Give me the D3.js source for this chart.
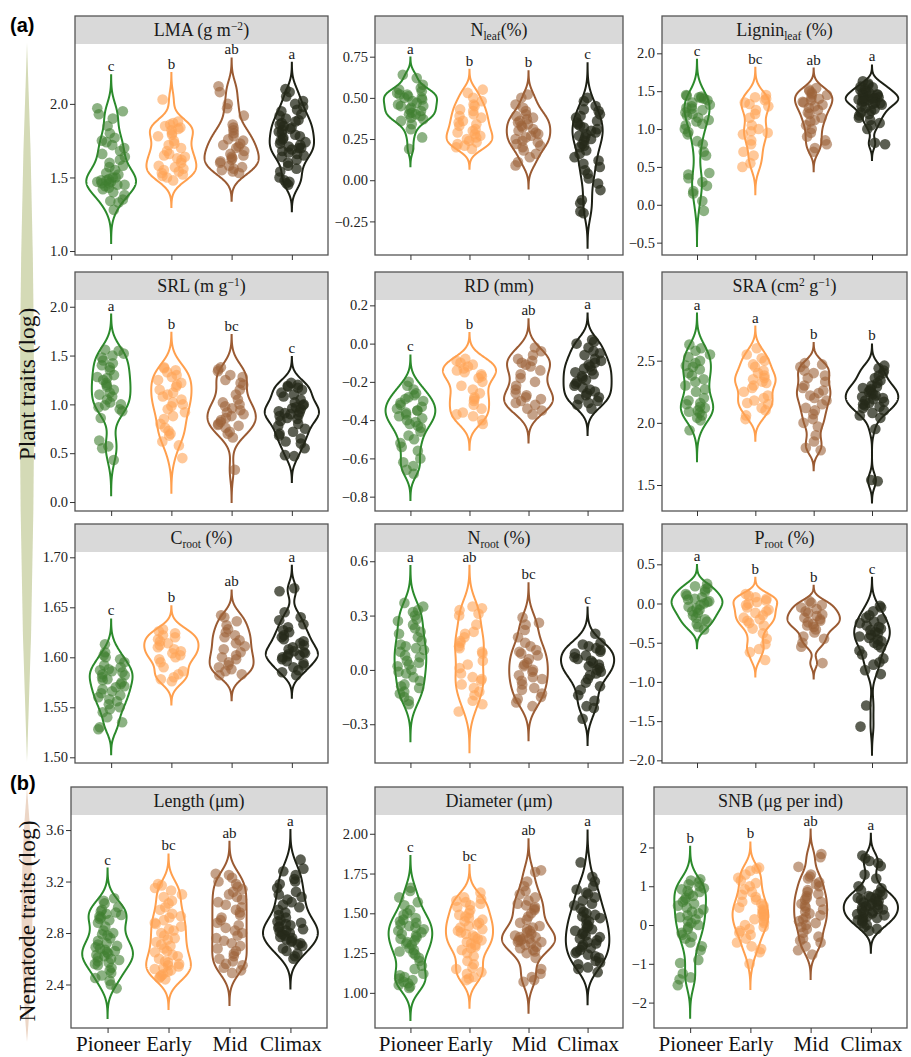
<!DOCTYPE html>
<html><head><meta charset="utf-8">
<script src="https://cdn.jsdelivr.net/npm/d3@7"></script>
<style>body{margin:0;background:#fff}svg{display:block}</style>
</head><body><svg id="c" width="911" height="1057"></svg>
<script>
// ---------------- DATA ----------------
const groups = ["Pioneer","Early","Mid","Climax"];

const lma = [
 [1.97,1.95,1.93,1.90,1.85,1.80,1.77,1.75,1.74,1.72,1.70,1.68,1.66,1.64,1.62,1.60,1.58,1.57,1.55,1.53,1.52,1.50,1.50,1.49,1.48,1.48,1.47,1.47,1.46,1.46,1.45,1.45,1.44,1.43,1.42,1.40,1.38,1.35,1.34,1.33,1.28],
 [2.03,1.88,1.87,1.86,1.85,1.84,1.83,1.82,1.80,1.79,1.78,1.75,1.73,1.72,1.70,1.68,1.66,1.65,1.64,1.63,1.62,1.60,1.58,1.57,1.56,1.55,1.54,1.53,1.52,1.51,1.50,1.48],
 [2.12,2.08,2.00,1.97,1.92,1.86,1.84,1.82,1.80,1.78,1.76,1.75,1.73,1.72,1.71,1.70,1.68,1.66,1.65,1.64,1.63,1.62,1.61,1.60,1.58,1.57,1.56,1.55,1.54,1.53],
 [2.10,2.08,2.05,2.02,2.00,1.98,1.96,1.95,1.93,1.92,1.90,1.89,1.88,1.87,1.86,1.85,1.84,1.83,1.82,1.81,1.80,1.79,1.78,1.77,1.76,1.75,1.74,1.73,1.72,1.71,1.70,1.70,1.69,1.68,1.67,1.66,1.65,1.64,1.62,1.60,1.58,1.56,1.54,1.50,1.48,1.47,1.46,1.45]
];
const nleaf = [
 [0.64,0.62,0.58,0.56,0.55,0.54,0.53,0.52,0.52,0.51,0.50,0.50,0.49,0.48,0.47,0.46,0.45,0.45,0.44,0.43,0.42,0.41,0.40,0.40,0.39,0.38,0.37,0.36,0.34,0.31,0.26,0.19],
 [0.55,0.53,0.50,0.48,0.46,0.45,0.43,0.42,0.40,0.39,0.38,0.36,0.35,0.34,0.33,0.31,0.30,0.29,0.28,0.27,0.26,0.25,0.24,0.23,0.22,0.21,0.20,0.19],
 [0.52,0.50,0.46,0.44,0.42,0.40,0.39,0.38,0.37,0.36,0.35,0.34,0.33,0.32,0.31,0.30,0.29,0.28,0.27,0.26,0.25,0.24,0.23,0.22,0.21,0.20,0.18,0.16,0.14,0.11,0.09],
 [0.50,0.48,0.45,0.43,0.42,0.40,0.39,0.38,0.36,0.35,0.34,0.33,0.32,0.31,0.30,0.29,0.28,0.27,0.26,0.25,0.24,0.22,0.21,0.20,0.18,0.16,0.14,0.12,0.10,0.08,0.06,0.04,0.01,-0.02,-0.06,-0.12,-0.14,-0.19,-0.20]
];
const lignin = [
 [1.45,1.44,1.43,1.42,1.41,1.40,1.38,1.35,1.32,1.30,1.28,1.27,1.25,1.22,1.20,1.18,1.15,1.12,1.10,1.07,1.05,1.00,0.96,0.93,0.84,0.80,0.70,0.65,0.42,0.40,0.35,0.30,0.25,0.18,0.15,0.05,-0.08],
 [1.45,1.42,1.40,1.38,1.35,1.33,1.30,1.25,1.20,1.15,1.05,1.00,0.97,0.95,0.93,0.85,0.80,0.70,0.65,0.55,0.50],
 [1.54,1.52,1.50,1.48,1.46,1.45,1.42,1.40,1.38,1.36,1.35,1.32,1.30,1.28,1.25,1.22,1.20,1.15,1.12,1.10,1.05,1.00,0.95,0.90,0.85,0.80,0.75,0.70],
 [1.63,1.60,1.58,1.56,1.55,1.53,1.52,1.50,1.48,1.47,1.46,1.45,1.44,1.43,1.42,1.41,1.40,1.40,1.39,1.38,1.37,1.36,1.35,1.34,1.33,1.32,1.30,1.28,1.26,1.24,1.22,1.20,1.18,1.15,1.12,1.08,1.05,1.00,0.82,0.80]
];
const srl = [
 [1.56,1.55,1.52,1.50,1.48,1.45,1.42,1.40,1.38,1.35,1.30,1.28,1.27,1.25,1.22,1.20,1.18,1.15,1.12,1.10,1.08,1.05,1.02,1.00,0.99,0.97,0.95,0.93,0.86,0.63,0.57,0.55,0.43],
 [1.38,1.37,1.35,1.33,1.30,1.28,1.25,1.22,1.20,1.18,1.15,1.12,1.10,1.08,1.05,1.02,1.00,0.98,0.95,0.92,0.88,0.85,0.80,0.76,0.73,0.70,0.68,0.62,0.58,0.45],
 [1.38,1.36,1.34,1.30,1.28,1.25,1.22,1.20,1.15,1.10,1.05,1.02,1.00,0.98,0.96,0.94,0.92,0.90,0.88,0.86,0.84,0.82,0.80,0.79,0.78,0.76,0.72,0.70,0.66,0.33],
 [1.22,1.20,1.19,1.18,1.17,1.15,1.12,1.10,1.08,1.05,1.02,1.00,0.99,0.97,0.96,0.95,0.93,0.92,0.91,0.90,0.89,0.88,0.86,0.85,0.83,0.80,0.78,0.75,0.72,0.70,0.68,0.65,0.62,0.60,0.55,0.48,0.47]
];
const rd = [
 [-0.20,-0.22,-0.24,-0.26,-0.27,-0.28,-0.29,-0.30,-0.31,-0.32,-0.33,-0.34,-0.35,-0.35,-0.36,-0.37,-0.38,-0.39,-0.40,-0.41,-0.42,-0.43,-0.44,-0.46,-0.48,-0.50,-0.52,-0.54,-0.56,-0.60,-0.62,-0.64,-0.66,-0.68],
 [-0.08,-0.09,-0.10,-0.11,-0.12,-0.13,-0.14,-0.15,-0.16,-0.17,-0.18,-0.20,-0.22,-0.24,-0.26,-0.28,-0.29,-0.30,-0.32,-0.34,-0.36,-0.37,-0.38,-0.40,-0.42],
 [-0.02,-0.04,-0.06,-0.08,-0.09,-0.10,-0.11,-0.12,-0.14,-0.16,-0.18,-0.20,-0.22,-0.24,-0.26,-0.27,-0.28,-0.29,-0.30,-0.31,-0.32,-0.34,-0.35,-0.37],
 [0.02,0.01,0.00,-0.02,-0.04,-0.05,-0.06,-0.08,-0.09,-0.10,-0.11,-0.12,-0.13,-0.14,-0.15,-0.16,-0.17,-0.18,-0.19,-0.20,-0.21,-0.22,-0.23,-0.24,-0.25,-0.26,-0.27,-0.28,-0.29,-0.30,-0.31,-0.32,-0.34]
];
const sra = [
 [2.63,2.60,2.58,2.55,2.53,2.50,2.48,2.46,2.45,2.43,2.40,2.38,2.35,2.33,2.30,2.27,2.25,2.20,2.18,2.16,2.15,2.13,2.12,2.10,2.09,2.08,2.06,2.04,2.02,1.94],
 [2.60,2.55,2.52,2.50,2.47,2.45,2.42,2.40,2.38,2.36,2.35,2.33,2.32,2.30,2.28,2.25,2.22,2.20,2.18,2.16,2.15,2.12,2.10,2.06,2.03],
 [2.48,2.47,2.45,2.42,2.40,2.38,2.36,2.33,2.30,2.28,2.26,2.24,2.22,2.20,2.18,2.15,2.12,2.10,2.07,2.03,2.00,1.97,1.90,1.85,1.80,1.78],
 [2.46,2.44,2.42,2.40,2.38,2.36,2.34,2.32,2.30,2.29,2.28,2.27,2.26,2.25,2.24,2.23,2.22,2.21,2.20,2.19,2.18,2.17,2.16,2.15,2.14,2.13,2.12,2.10,2.08,2.06,2.04,1.95,1.54,1.53]
];
const croot = [
 [1.613,1.605,1.602,1.600,1.598,1.595,1.592,1.590,1.588,1.587,1.586,1.585,1.583,1.582,1.580,1.578,1.577,1.575,1.573,1.571,1.570,1.568,1.566,1.564,1.562,1.560,1.558,1.556,1.553,1.550,1.548,1.545,1.540,1.535,1.530,1.528],
 [1.628,1.626,1.624,1.622,1.620,1.618,1.616,1.614,1.612,1.610,1.608,1.606,1.604,1.602,1.600,1.598,1.595,1.590,1.586,1.583,1.580,1.578,1.576],
 [1.642,1.640,1.636,1.632,1.628,1.625,1.622,1.620,1.617,1.614,1.611,1.608,1.605,1.602,1.600,1.598,1.595,1.592,1.590,1.588,1.586,1.583,1.582],
 [1.669,1.666,1.645,1.640,1.637,1.633,1.630,1.627,1.625,1.622,1.620,1.618,1.616,1.614,1.612,1.610,1.608,1.606,1.605,1.604,1.603,1.602,1.601,1.600,1.598,1.596,1.594,1.592,1.590,1.587,1.585,1.582]
];
const nroot = [
 [0.37,0.35,0.33,0.32,0.30,0.28,0.27,0.25,0.23,0.21,0.20,0.18,0.16,0.14,0.13,0.12,0.11,0.10,0.08,0.07,0.05,0.04,0.03,0.02,0.00,-0.01,-0.02,-0.04,-0.06,-0.08,-0.09,-0.10,-0.12,-0.13,-0.15,-0.17,-0.19],
 [0.35,0.34,0.33,0.31,0.30,0.25,0.21,0.20,0.18,0.16,0.15,0.13,0.12,0.10,0.09,0.05,0.03,0.01,-0.02,-0.04,-0.05,-0.06,-0.08,-0.10,-0.12,-0.14,-0.17,-0.19,-0.23],
 [0.29,0.26,0.25,0.22,0.18,0.15,0.13,0.11,0.10,0.09,0.08,0.06,0.04,0.03,0.02,0.00,-0.01,-0.03,-0.04,-0.05,-0.06,-0.08,-0.10,-0.11,-0.13,-0.15,-0.16,-0.18,-0.20],
 [0.20,0.15,0.14,0.13,0.12,0.11,0.10,0.09,0.08,0.07,0.06,0.05,0.04,0.03,0.02,0.01,0.00,-0.01,-0.02,-0.03,-0.05,-0.07,-0.09,-0.11,-0.14,-0.17,-0.20,-0.21,-0.27]
];
const proot = [
 [0.25,0.22,0.20,0.18,0.15,0.12,0.10,0.08,0.06,0.05,0.03,0.02,0.00,-0.02,-0.04,-0.06,-0.08,-0.10,-0.12,-0.15,-0.18,-0.20,-0.23,-0.26,-0.30,-0.33],
 [0.12,0.10,0.08,0.06,0.04,0.02,0.00,-0.02,-0.05,-0.08,-0.10,-0.12,-0.15,-0.18,-0.20,-0.22,-0.25,-0.28,-0.32,-0.38,-0.45,-0.52,-0.58,-0.62,-0.72],
 [0.03,0.01,-0.02,-0.05,-0.07,-0.10,-0.12,-0.14,-0.16,-0.18,-0.20,-0.22,-0.24,-0.26,-0.28,-0.30,-0.33,-0.37,-0.42,-0.45,-0.50,-0.55,-0.76],
 [-0.03,-0.05,-0.10,-0.15,-0.18,-0.20,-0.23,-0.25,-0.28,-0.30,-0.32,-0.34,-0.36,-0.38,-0.40,-0.42,-0.44,-0.46,-0.48,-0.50,-0.53,-0.56,-0.60,-0.65,-0.70,-0.75,-0.78,-0.85,-0.90,-1.30,-1.57]
];
const nemLength = [
 [3.07,3.05,3.03,3.00,2.98,2.97,2.96,2.95,2.94,2.93,2.92,2.91,2.90,2.88,2.85,2.82,2.80,2.79,2.78,2.76,2.74,2.72,2.71,2.70,2.69,2.68,2.67,2.66,2.65,2.64,2.63,2.62,2.61,2.60,2.59,2.58,2.57,2.56,2.55,2.53,2.51,2.49,2.47,2.45,2.43,2.40,2.37],
 [3.18,3.17,3.15,3.13,3.10,3.08,3.05,3.03,3.00,2.98,2.95,2.93,2.92,2.90,2.88,2.87,2.85,2.83,2.82,2.80,2.78,2.76,2.75,2.73,2.71,2.70,2.68,2.66,2.65,2.63,2.62,2.60,2.58,2.57,2.56,2.55,2.54,2.53,2.52,2.51,2.50,2.48,2.47,2.46,2.45,2.44],
 [3.26,3.25,3.23,3.20,3.18,3.16,3.14,3.12,3.10,3.08,3.06,3.04,3.02,3.00,2.98,2.96,2.94,2.92,2.90,2.88,2.86,2.84,2.82,2.80,2.78,2.76,2.74,2.72,2.70,2.68,2.66,2.64,2.62,2.60,2.58,2.56,2.55,2.53,2.51,2.49],
 [3.37,3.30,3.28,3.25,3.22,3.20,3.18,3.15,3.12,3.10,3.08,3.06,3.04,3.02,3.00,2.98,2.96,2.94,2.92,2.90,2.89,2.88,2.87,2.86,2.85,2.84,2.83,2.82,2.81,2.80,2.79,2.78,2.77,2.76,2.75,2.74,2.73,2.72,2.71,2.70,2.68,2.66,2.64,2.62,2.60]
];
const nemDiameter = [
 [1.66,1.64,1.60,1.57,1.55,1.52,1.50,1.49,1.47,1.46,1.45,1.44,1.43,1.42,1.41,1.40,1.39,1.38,1.37,1.36,1.35,1.34,1.33,1.32,1.31,1.30,1.28,1.27,1.26,1.25,1.24,1.22,1.20,1.17,1.15,1.12,1.11,1.10,1.09,1.08,1.07,1.06,1.05,1.04,1.03],
 [1.63,1.60,1.59,1.58,1.57,1.56,1.55,1.54,1.52,1.50,1.49,1.48,1.47,1.46,1.45,1.44,1.43,1.42,1.41,1.40,1.39,1.38,1.37,1.36,1.35,1.34,1.33,1.32,1.31,1.30,1.29,1.28,1.27,1.25,1.23,1.20,1.18,1.16,1.15,1.13,1.12,1.10,1.09,1.08],
 [1.77,1.76,1.70,1.67,1.64,1.62,1.60,1.58,1.56,1.55,1.54,1.53,1.52,1.50,1.48,1.46,1.44,1.42,1.41,1.40,1.39,1.38,1.37,1.36,1.35,1.35,1.34,1.34,1.33,1.33,1.32,1.32,1.31,1.30,1.29,1.28,1.27,1.26,1.25,1.22,1.15,1.12,1.10,1.08,1.07],
 [1.82,1.73,1.70,1.67,1.65,1.63,1.62,1.60,1.58,1.56,1.55,1.53,1.51,1.50,1.49,1.48,1.47,1.46,1.45,1.43,1.42,1.41,1.40,1.39,1.38,1.37,1.36,1.35,1.34,1.33,1.32,1.31,1.30,1.29,1.28,1.27,1.26,1.25,1.24,1.23,1.22,1.20,1.19,1.18,1.16,1.15,1.13]
];
const nemSNB = [
 [1.18,1.15,1.10,1.05,1.00,0.95,0.92,0.88,0.85,0.80,0.75,0.70,0.65,0.60,0.55,0.50,0.45,0.40,0.35,0.30,0.25,0.20,0.15,0.10,0.05,0.00,-0.05,-0.10,-0.20,-0.25,-0.30,-0.35,-0.45,-0.55,-0.65,-0.90,-0.98,-1.25,-1.35,-1.40,-1.55],
 [1.48,1.45,1.40,1.30,1.22,1.15,1.08,1.00,0.92,0.85,0.78,0.72,0.65,0.60,0.55,0.50,0.45,0.40,0.36,0.32,0.28,0.24,0.20,0.15,0.10,0.05,0.00,-0.05,-0.10,-0.15,-0.20,-0.25,-0.35,-0.45,-0.55,-0.62,-0.70,-1.00],
 [1.83,1.75,1.50,1.30,1.25,1.20,1.10,1.05,1.00,0.90,0.85,0.80,0.75,0.70,0.65,0.60,0.55,0.50,0.45,0.40,0.35,0.30,0.25,0.20,0.15,0.10,0.05,0.00,-0.05,-0.10,-0.20,-0.30,-0.35,-0.40,-0.45,-0.55,-0.65,-0.76],
 [1.79,1.72,1.65,1.60,1.52,1.30,1.20,1.00,0.95,0.90,0.85,0.80,0.78,0.75,0.72,0.70,0.68,0.65,0.62,0.60,0.58,0.55,0.52,0.50,0.48,0.45,0.42,0.40,0.38,0.35,0.32,0.30,0.28,0.25,0.22,0.20,0.18,0.15,0.12,0.10,0.05,0.00,-0.05,-0.10,-0.15]
];

const bwLMA=[0.075,0.06,0.063,0.06], bwNleaf=[0.035,0.04,0.047,0.07], bwLignin=[0.155,0.12,0.086,0.07],
      bwSRL=[0.12,0.118,0.11,0.088], bwRD=[0.046,0.045,0.049,0.046], bwSRA=[0.083,0.058,0.054,0.057],
      bwCroot=[0.0083,0.0077,0.0083,0.0075], bwNroot=[0.068,0.075,0.063,0.048], bwProot=[0.08,0.07,0.065,0.12],
      bwLen=[0.077,0.077,0.083,0.077], bwDia=[0.067,0.058,0.065,0.067], bwSNB=[0.28,0.217,0.21,0.188];

const letters = {
 lma:["c","b","ab","a"], nleaf:["a","b","b","c"], lignin:["c","bc","ab","a"],
 srl:["a","b","bc","c"], rd:["c","b","ab","a"], sra:["a","a","b","b"],
 croot:["c","b","ab","a"], nroot:["a","ab","bc","c"], proot:["a","b","b","c"],
 len:["c","bc","ab","a"], dia:["c","bc","ab","a"], snb:["b","b","ab","a"]
};
const ticksLMA=[1.0,1.5,2.0], ticksNleaf=[-0.25,0,0.25,0.5,0.75], ticksLignin=[-0.5,0,0.5,1,1.5,2],
      ticksSRL=[0,0.5,1,1.5,2], ticksRD=[-0.8,-0.6,-0.4,-0.2,0,0.2], ticksSRA=[1.5,2,2.5],
      ticksCroot=[1.5,1.55,1.6,1.65,1.7], ticksNroot=[-0.3,0,0.3,0.6], ticksProot=[-2,-1.5,-1,-0.5,0,0.5],
      ticksLen=[2.4,2.8,3.2,3.6], ticksDia=[1,1.25,1.5,1.75,2], ticksSNB=[-2,-1,0,1,2];

const panels = [
 {title:[["LMA (g m",0],["−2",1],[")",0]], data:lma, bw:bwLMA, let:letters.lma, ticks:ticksLMA, fmt:".1f", lim:[0.973,2.407]},
 {title:[["N",0],["leaf",-1],["(%)",0]], data:nleaf, bw:bwNleaf, let:letters.nleaf, ticks:ticksNleaf, fmt:".2f", lim:[-0.454,0.827]},
 {title:[["Lignin",0],["leaf",-1],[" (%)",0]], data:lignin, bw:bwLignin, let:letters.lignin, ticks:ticksLignin, fmt:".1f", lim:[-0.663,2.123]},
 {title:[["SRL (m g",0],["−1",1],[")",0]], data:srl, bw:bwSRL, let:letters.srl, ticks:ticksSRL, fmt:".1f", lim:[-0.092,2.069]},
 {title:[["RD (mm)",0]], data:rd, bw:bwRD, let:letters.rd, ticks:ticksRD, fmt:".1f", lim:[-0.875,0.228]},
 {title:[["SRA (cm",0],["2",1],[" g",0],["−1",1],[")",0]], data:sra, bw:bwSRA, let:letters.sra, ticks:ticksSRA, fmt:".1f", lim:[1.291,2.988]},
 {title:[["C",0],["root",-1],[" (%)",0]], data:croot, bw:bwCroot, let:letters.croot, ticks:ticksCroot, fmt:".2f", lim:[1.4943,1.7053]},
 {title:[["N",0],["root",-1],[" (%)",0]], data:nroot, bw:bwNroot, let:letters.nroot, ticks:ticksNroot, fmt:".1f", lim:[-0.514,0.651]},
 {title:[["P",0],["root",-1],[" (%)",0]], data:proot, bw:bwProot, let:letters.proot, ticks:ticksProot, fmt:".1f", lim:[-2.034,0.657]},
 {title:[["Length (μm)",0]], data:nemLength, bw:bwLen, let:letters.len, ticks:ticksLen, fmt:".1f", lim:[2.062,3.717]},
 {title:[["Diameter (μm)",0]], data:nemDiameter, bw:bwDia, let:letters.dia, ticks:ticksDia, fmt:".2f", lim:[0.779,2.118]},
 {title:[["SNB (μg per ind)",0]], data:nemSNB, bw:bwSNB, let:letters.snb, ticks:ticksSNB, fmt:"d", lim:[-2.655,2.837]}
];

// ---------------- LAYOUT / STYLE ----------------
const rowBox = [[16,255],[272,511],[524,763],[787,1028]];
const colLeft = [[75,375,662],[75,375,662],[75,375,662],[71,375,654]];
const colRight = [[328,623,907],[328,623,907],[328,623,907],[327,623,907]];
const stripH = 28;
const lineColors = ["#2b8a2b","#ff9f4d","#9a5a32","#1c1f14"];
const pointColors = ["#3f7f30","#ffa355","#9d6238","#262a1a"];
const pointOpacity = [0.6,0.6,0.6,0.75];
const serif = "Liberation Serif";

const svg = d3.select("#c");

// deterministic horizontal jitter offset in [-1,1] (position only, not data)
function jit(i, gi, pi){
  const s = Math.sin(i*12.9898 + gi*78.233 + pi*37.719)*43758.5453;
  return (s - Math.floor(s))*2 - 1;
}

function kde(vals, bw){
  const s = vals.slice().sort(d3.ascending);
  const n = s.length;
  const from = s[0]-3*bw, to = s[n-1]+3*bw;
  const out=[];
  for(let k=0;k<512;k++){
    const y = from+(to-from)*k/511;
    let d=0; for(const v of s){const z=(y-v)/bw; d+=Math.exp(-0.5*z*z);}
    out.push([y, d/(n*bw*Math.sqrt(2*Math.PI))]);
  }
  return out;
}

panels.forEach((p,pi)=>{
  const r = Math.floor(pi/3), c = pi%3;
  const L = colLeft[r][c], R = colRight[r][c], T = rowBox[r][0], B = rowBox[r][1];
  const g = svg.append("g");
  const x = d3.scaleLinear().domain([0.4,4.6]).range([L,R]);
  const y = d3.scaleLinear().domain(p.lim).range([B, T+stripH]);

  // strip
  g.append("rect").attr("x",L).attr("y",T).attr("width",R-L).attr("height",stripH).attr("fill","#d9d9d9");
  const tt = g.append("text").attr("x",(L+R)/2).attr("y",T+20).attr("text-anchor","middle")
    .style("font-family",serif).style("font-size","18px").attr("fill","#1a1a1a");
  let prevShift = 0;
  p.title.forEach(([s,type])=>{
    const shift = type===1?-6:(type===-1?4:0);
    tt.append("tspan").attr("dy",shift-prevShift).style("font-size",(type===0?18:11.5)+"px").text(s);
    prevShift = shift;
  });

  // densities
  const dens = p.data.map((v,gi)=>kde(v,p.bw[gi]));
  const maxD = d3.max(dens, d=>d3.max(d, e=>e[1]));
  const halfW = 0.45;

  // violins
  dens.forEach((d,gi)=>{
    const cx = gi+1;
    const right = d.map(e=>[x(cx + halfW*e[1]/maxD), y(e[0])]);
    const left = d.slice().reverse().map(e=>[x(cx - halfW*e[1]/maxD), y(e[0])]);
    g.append("path").attr("d", d3.line()(right.concat(left))+"Z")
      .attr("fill","none").attr("stroke",lineColors[gi]).attr("stroke-width",2);
    const topPix = y(d[d.length-1][0]);
    g.append("text").attr("x",x(cx)).attr("y",topPix-4).attr("text-anchor","middle")
      .style("font-family",serif).style("font-size","15px").attr("fill","#1a1a1a").text(p.let[gi]);
  });

  // points
  p.data.forEach((vals,gi)=>{
    g.append("g").selectAll("circle").data(vals).join("circle")
      .attr("cx",(v,i)=>x(gi+1 + jit(i,gi,pi)*0.23))
      .attr("cy",v=>y(v)).attr("r",5.3)
      .attr("fill",pointColors[gi]).attr("fill-opacity",pointOpacity[gi]);
  });

  // border
  g.append("rect").attr("x",L).attr("y",T).attr("width",R-L).attr("height",B-T)
    .attr("fill","none").attr("stroke","#555").attr("stroke-width",1.3);

  // y axis
  const ya = g.append("g").attr("transform",`translate(${L},0)`)
    .call(d3.axisLeft(y).tickValues(p.ticks).tickFormat(d3.format(p.fmt)).tickSize(5).tickPadding(2));
  ya.attr("font-family",null).attr("font-size",null);
  ya.select(".domain").remove();
  ya.selectAll("line").attr("stroke","#333");
  ya.selectAll("text").style("font-family",serif).style("font-size","14.5px").attr("fill","#222");

  // x axis
  const xa = g.append("g").attr("transform",`translate(0,${B})`)
    .call(d3.axisBottom(x).tickValues([1,2,3,4]).tickFormat((d,i)=> r===3?groups[i]:"").tickSize(5).tickPadding(3));
  xa.attr("font-family",null).attr("font-size",null);
  xa.select(".domain").remove();
  xa.selectAll("line").attr("stroke","#333");
  xa.selectAll("text").style("font-family",serif).style("font-size","21px").attr("fill","#111");
});

// side spindles and labels
function spindle(cx, y0, y1, w, color){
  const ym=(y0+y1)/2;
  svg.append("path").attr("d",`M${cx},${y0} Q${cx+w},${ym} ${cx},${y1} Q${cx-w},${ym} ${cx},${y0}Z`).attr("fill",color);
}
spindle(27, 43, 762, 14, "#d4dab6");
spindle(27, 788, 1042, 11, "#ecd6c6");
svg.append("text").attr("transform","translate(35,384) rotate(-90)").attr("text-anchor","middle")
  .style("font-family",serif).style("font-size","23.5px").attr("fill","#111").text("Plant traits (log)");
svg.append("text").attr("transform","translate(35,921) rotate(-90)").attr("text-anchor","middle")
  .style("font-family",serif).style("font-size","23.5px").attr("fill","#111").text("Nematode traits (log)");
svg.append("text").attr("x",10).attr("y",32).style("font-family","Liberation Sans")
  .attr("font-weight","bold").style("font-size","20px").text("(a)");
svg.append("text").attr("x",10).attr("y",790).style("font-family","Liberation Sans")
  .attr("font-weight","bold").style("font-size","20px").text("(b)");
</script></body></html>
